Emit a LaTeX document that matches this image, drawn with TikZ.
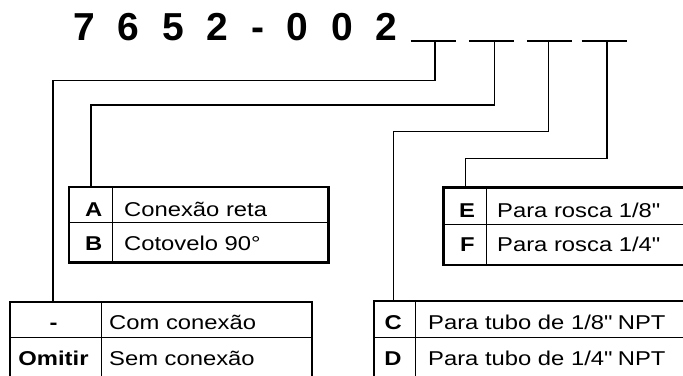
\documentclass[tikz,border=0pt]{standalone}
\usepackage{fontspec}
\setmainfont{Liberation Sans}
\newfontfamily\labfont[FakeStretch=1.19]{Liberation Sans}
\newcommand\inchmark{\XeTeXglyph\XeTeXcharglyph"22\relax}
\begin{document}
\begin{tikzpicture}[x=1pt,y=-1pt,
  conn/.style={line width=1.1pt},
  uline/.style={line width=2pt},
  tbl/.style={draw, line width=2.4pt, inner sep=0pt, outer sep=0pt, anchor=north west},
  gridline/.style={line width=1pt},
  lab/.style={font=\labfont\fontsize{20}{20}\selectfont, inner sep=0pt, anchor=base west},
  key/.style={font=\labfont\fontsize{20}{20}\selectfont\bfseries, inner sep=0pt, anchor=base},
  title/.style={font=\fontsize{39}{39}\selectfont\bfseries, inner sep=0pt, anchor=base west}
]
\useasboundingbox (0,0) rectangle (683,375);

% title
\node[title] (ttl) at (73.4,40.7) {7\hspace{22.7pt}6\hspace{22.7pt}5\hspace{22.7pt}2\hspace{22.7pt}-\hspace{22.7pt}0\hspace{22.7pt}0\hspace{22.7pt}2};

% underscores
\coordinate (u1l) at (410.7,40.7); \coordinate (u1r) at (455.9,40.7);
\coordinate (u2l) at (468.8,40.7); \coordinate (u2r) at (514.3,40.7);
\coordinate (u3l) at (526.9,40.7); \coordinate (u3r) at (572.4,40.7);
\coordinate (u4l) at (581.6,40.7); \coordinate (u4r) at (626.8,40.7);
\draw[uline] (u1l) -- (u1r);
\draw[uline] (u2l) -- (u2r);
\draw[uline] (u3l) -- (u3r);
\draw[uline] (u4l) -- (u4r);

% tables
\node[tbl, minimum width=301.7pt, minimum height=77pt] (t1) at (10,301.7) {};
\draw[gridline] (101,301.7) -- (101,378.7);
\draw[gridline] (10,337.7) -- (311.7,337.7);

\node[tbl, minimum width=259.3pt, minimum height=75.5pt] (tab) at (69,187) {};
\draw[gridline] (112,187) -- (112,262.5);
\draw[gridline] (69,222.5) -- (328.3,222.5);

\node[tbl, minimum width=250pt, minimum height=77.5pt] (tef) at (443.5,187.5) {};
\draw[gridline] (486,187.5) -- (486,265);
\draw[gridline] (443.5,224.5) -- (693.5,224.5);

\node[tbl, minimum width=320pt, minimum height=78pt] (tcd) at (374,301.2) {};
\draw[gridline] (415,301.2) -- (415,379.2);
\draw[gridline] (374,337.7) -- (694,337.7);

% texts
\node[key] (kdash) at (53.5,329.5) {-};
\node[key] (kom) at (53.5,365.5) {Omitir};
\node[lab] (lcom) at (109,329.5) {Com conexão};
\node[lab] (lsem) at (109,365.5) {Sem conexão};

\node[key] (ka) at (93.8,216.5) {A};
\node[key] (kb) at (93.8,250) {B};
\node[lab] (la) at (124,216.5) {Conexão reta};
\node[lab] (lb) at (124,250) {Cotovelo 90°};

\node[key] (ke) at (467,217.5) {E};
\node[key] (kf) at (467.5,251) {F};
\node[lab] (le) at (497,217.5) {Para rosca 1/8\inchmark};
\node[lab] (lf) at (497,251) {Para rosca 1/4\inchmark};

\node[key] (kc) at (393.3,329.5) {C};
\node[key] (kd) at (393,365) {D};
\node[lab] (lc) at (428,329.5) {Para tubo de 1/8\inchmark{} NPT};
\node[lab] (ld) at (428,365) {Para tubo de 1/4\inchmark{} NPT};

% connectors
\coordinate (d1) at (435,40.7);   \coordinate (k1) at (53,80.7);
\coordinate (d2) at (494.3,40.7); \coordinate (k2) at (91,105);
\coordinate (d3) at (548.3,40.7); \coordinate (k3) at (393.3,131.7);
\coordinate (d4) at (607,40.7);   \coordinate (k4) at (465.7,158.3);
\draw[conn] (d1) |- (k1) -- (k1 |- t1.north);
\draw[conn] (d2) |- (k2) -- (k2 |- tab.north);
\draw[conn] (d3) |- (k3) -- (k3 |- tcd.north);
\draw[conn] (d4) |- (k4) -- (k4 |- tef.north);
\end{tikzpicture}
\end{document}
